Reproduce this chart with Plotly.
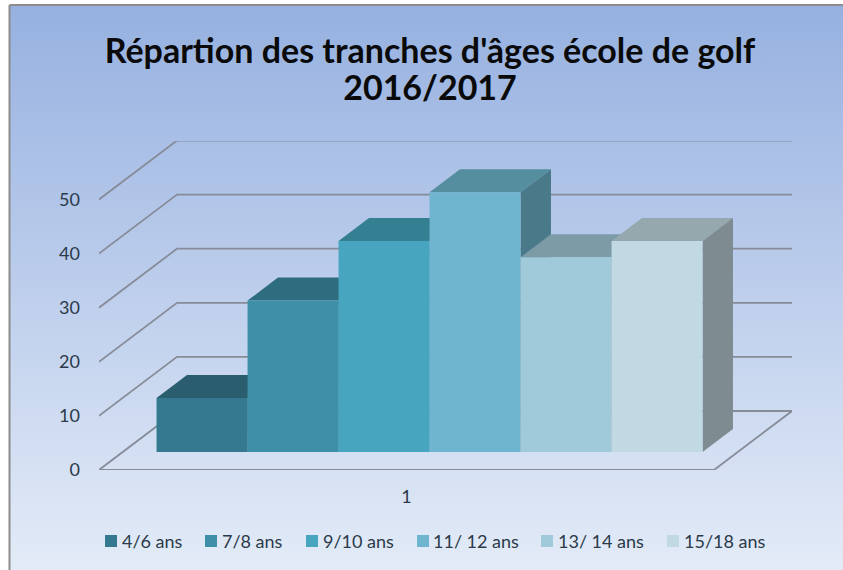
import plotly.graph_objects as go

# ---- data ----
categories = ["4/6 ans", "7/8 ans", "9/10 ans", "11/ 12 ans", "13/ 14 ans", "15/18 ans"]
values = [10, 28, 39, 48, 36, 39]
y_ticks = [0, 10, 20, 30, 40, 50]
x_tick_label = "1"

front_colors = ["#34798F", "#3E8FA8", "#48A5BF", "#6FB5CF", "#A0CAD9", "#C1D9E3"]
top_colors = ["#2A5E6E", "#2E6C80", "#357F93", "#558E9F", "#7C9BA7", "#95A8AD"]
side_colors = ["#255361", "#2A6173", "#307385", "#4A7A8A", "#64808C", "#7E8C91"]

W, H = 843, 570
FONT = "Lato"
TEXT = "#2B3A4A"
GRID = "#878C99"

# plot frame in pixels
LEFT, RIGHT, BOTTOM, TOP = 99, 792, 470, 141
PX_X = 91.0      # pixels per category
PX_Y = 5.41      # pixels per value unit

# oblique projection (in axis units)
DX = 78 / PX_X
DY = 59 / PX_Y
D_FRONT, D_BACK = 0.305, 0.695
GAP = 0.371


def proj(x, v, d):
    return x + DX * d, v + DY * d


def poly(points, color, xa="x2", ya="y2"):
    xs = [p[0] for p in points] + [points[0][0]]
    ys = [p[1] for p in points] + [points[0][1]]
    return go.Scatter(x=xs, y=ys, mode="lines", fill="toself", fillcolor=color,
                      line=dict(width=0, color=color), xaxis=xa, yaxis=ya,
                      hoverinfo="skip", showlegend=False)


fig = go.Figure()

# background gradient panel
fig.add_trace(go.Scatter(
    x=[10, W, W, 10, 10], y=[5, 5, H, H, 5], mode="lines", fill="toself",
    line=dict(width=0),
    fillgradient=dict(type="vertical",
                      colorscale=[[0, "#E3EBF7"], [0.5, "#BDCEEC"], [1, "#96B1E0"]]),
    xaxis="x", yaxis="y", hoverinfo="skip", showlegend=False))

x_max = (RIGHT - LEFT) / PX_X
floor_w = x_max - DX

# gridlines
for v in y_ticks:
    a = proj(0, v, 0)
    b = proj(0, v, 1)
    c = proj(floor_w, v, 1)
    xs, ys = [a[0], b[0], c[0]], [a[1], b[1], c[1]]
    if v == 0:
        d = proj(floor_w, v, 0)
        xs += [d[0], a[0]]
        ys += [d[1], a[1]]
    fig.add_trace(go.Scatter(x=xs, y=ys, mode="lines", line=dict(color=GRID, width=1.8),
                             xaxis="x2", yaxis="y2", hoverinfo="skip", showlegend=False))

# bars, painted left to right
for i, (name, v) in enumerate(zip(categories, values)):
    x0, x1 = GAP + i, GAP + i + 1
    fl_b, fr_b = proj(x0, 0, D_FRONT), proj(x1, 0, D_FRONT)
    fl_t, fr_t = proj(x0, v, D_FRONT), proj(x1, v, D_FRONT)
    bl_t, br_t = proj(x0, v, D_BACK), proj(x1, v, D_BACK)
    br_b = proj(x1, 0, D_BACK)
    fig.add_trace(poly([fl_t, bl_t, br_t, fr_t], top_colors[i]))
    fig.add_trace(poly([fr_b, fr_t, br_t, br_b], side_colors[i]))
    fig.add_trace(poly([fl_b, fl_t, fr_t, fr_b], front_colors[i]))

shapes = [
    dict(type="line", xref="paper", yref="paper", x0=9.5 / W, x1=9.5 / W, y0=0, y1=1 - 5 / H,
         line=dict(color="#8C8C8C", width=2), layer="above"),
    dict(type="line", xref="paper", yref="paper", x0=9.5 / W, x1=1, y0=1 - 5 / H, y1=1 - 5 / H,
         line=dict(color="#8C8C8C", width=2), layer="above"),
]

# legend
swatch_px = [105, 205, 306, 417, 541, 667]
annotations = []
for name, sx, col in zip(categories, swatch_px, front_colors):
    shapes.append(dict(type="rect", xref="paper", yref="paper",
                       x0=sx / W, x1=(sx + 12) / W, y0=1 - 547 / H, y1=1 - 535 / H,
                       fillcolor=col, line=dict(width=0)))
    annotations.append(dict(text=name, xref="paper", yref="paper", x=(sx + 14.5) / W, y=1 - 541 / H,
                            xanchor="left", yanchor="middle", showarrow=False,
                            font=dict(family=FONT, size=18, color=TEXT)))

T_SPAN = '<span style="font-size:34px">%s</span>'
fig.update_layout(
    width=W, height=H, autosize=False,
    margin=dict(l=0, r=0, t=0, b=0, pad=0, autoexpand=False),
    paper_bgcolor="white", plot_bgcolor="rgba(0,0,0,0)",
    showlegend=False,
    title=dict(text=T_SPAN % "Répartion des tranches d'âges école de golf" + "<br>" + T_SPAN % "2016/2017",
               x=430 / W, xanchor="center", y=1 - 62.5 / H, yanchor="middle",
               font=dict(family=FONT, size=29, color="#0A0A0A", weight="bold")),
    xaxis=dict(domain=[0, 1], range=[0, W], visible=False, fixedrange=True),
    yaxis=dict(domain=[0, 1], range=[H, 0], visible=False, fixedrange=True),
    xaxis2=dict(domain=[LEFT / W, RIGHT / W], range=[0, x_max], anchor="y2",
                tickmode="array", tickvals=[(floor_w) / 2], ticktext=[x_tick_label],
                showgrid=False, zeroline=False, showline=False, ticks="",
                ticklabelstandoff=14, tickfont=dict(family=FONT, size=18, color=TEXT)),
    yaxis2=dict(domain=[1 - BOTTOM / H, 1 - TOP / H], range=[0, (BOTTOM - TOP) / PX_Y], anchor="x2",
                tickmode="array", tickvals=y_ticks, ticktext=[str(t) for t in y_ticks],
                showgrid=False, zeroline=False, showline=False, ticks="",
                ticklabelstandoff=18, tickfont=dict(family=FONT, size=18, color=TEXT)),
    shapes=shapes, annotations=annotations,
)

fig.write_html("out.html", config={"displayModeBar": False},
               post_script="document.body.style.margin='0';")
